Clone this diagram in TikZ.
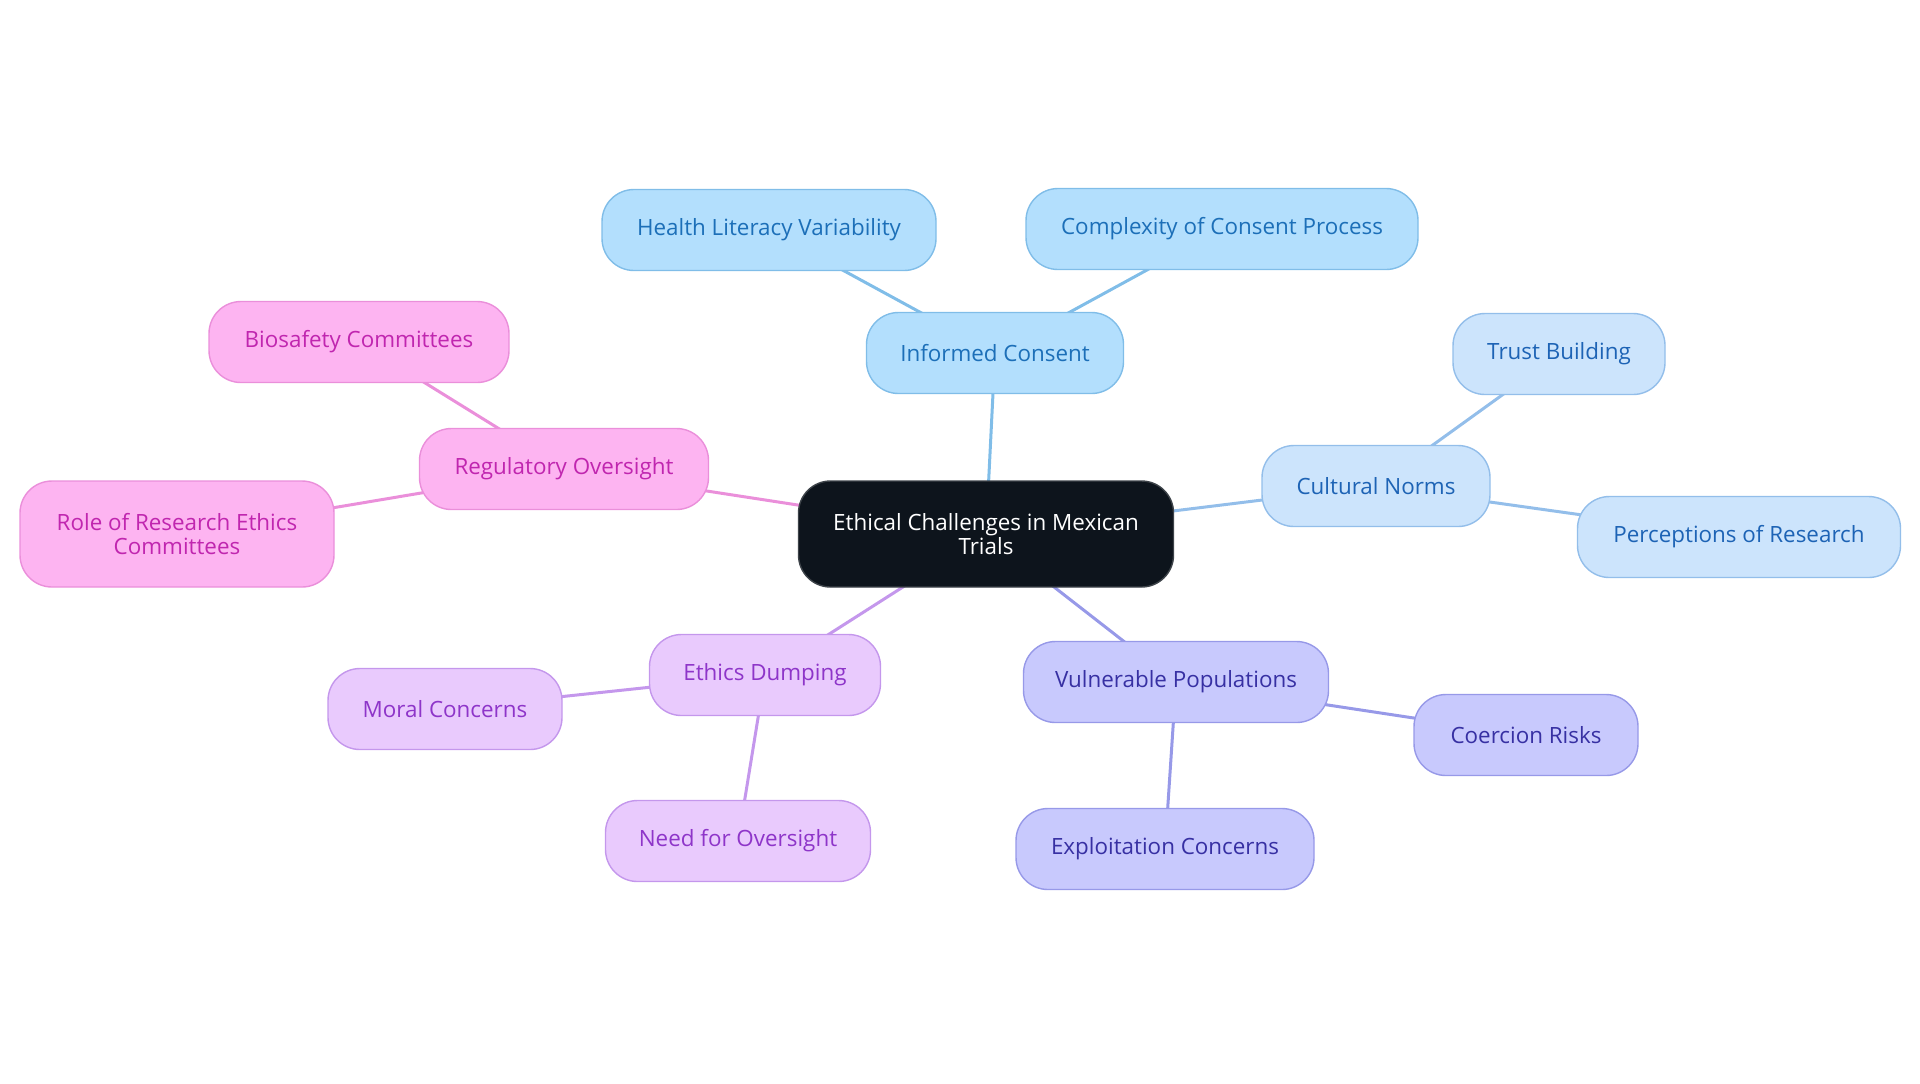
\documentclass[tikz,border=0pt]{standalone}
\usepackage{fontspec}
\setmainfont{Open Sans}
\usetikzlibrary{backgrounds}
\definecolor{icFill}{HTML}{B3DFFD}\definecolor{icLine}{HTML}{80BDE8}\definecolor{icText}{HTML}{1C6FB8}
\definecolor{cnFill}{HTML}{CCE4FC}\definecolor{cnLine}{HTML}{93BEEA}\definecolor{cnText}{HTML}{1D63B5}
\definecolor{vpFill}{HTML}{C8C9FD}\definecolor{vpLine}{HTML}{9799E8}\definecolor{vpText}{HTML}{3730A3}
\definecolor{edFill}{HTML}{E9CAFD}\definecolor{edLine}{HTML}{C497EC}\definecolor{edText}{HTML}{8E35C9}
\definecolor{roFill}{HTML}{FDB4F1}\definecolor{roLine}{HTML}{EA8FDA}\definecolor{roText}{HTML}{C026AF}
\definecolor{ctrFill}{HTML}{0D141C}
\tikzset{
  box/.style={rounded corners=16pt, line width=0.7pt, align=center, font=\fontsize{11.2}{12.2}\selectfont, inner sep=0pt, minimum height=40.5pt},
  icbox/.style={box, fill=icFill, draw=icLine, text=icText},
  cnbox/.style={box, fill=cnFill, draw=cnLine, text=cnText},
  vpbox/.style={box, fill=vpFill, draw=vpLine, text=vpText},
  edbox/.style={box, fill=edFill, draw=edLine, text=edText},
  robox/.style={box, fill=roFill, draw=roLine, text=roText},
  ctrbox/.style={box, fill=ctrFill, draw=ctrFill!80!white, text=white, minimum height=53pt},
  link/.style={line width=1.5pt},
}
\begin{document}
\begin{tikzpicture}[x=0.5pt,y=-0.5pt]
\useasboundingbox (0,0) rectangle (1920,1083);
\node[ctrbox, minimum width=187.5pt] (ctr) at (986,534) {Ethical Challenges in Mexican\\Trials};
\node[icbox, minimum width=128.5pt] (ic) at (995,353) {Informed Consent};
\node[icbox, minimum width=167pt] (hl) at (769,230) {Health Literacy Variability};
\node[icbox, minimum width=196pt] (cc) at (1222,229) {Complexity of Consent Process};
\node[cnbox, minimum width=114pt] (cn) at (1376,486) {Cultural Norms};
\node[cnbox, minimum width=106pt] (tb) at (1559,354) {Trust Building};
\node[cnbox, minimum width=161.5pt] (pr) at (1739,537) {Perceptions of Research};
\node[vpbox, minimum width=152.5pt] (vp) at (1176,682) {Vulnerable Populations};
\node[vpbox, minimum width=112pt] (cr) at (1526,735) {Coercion Risks};
\node[vpbox, minimum width=149pt] (ec) at (1165,849) {Exploitation Concerns};
\node[edbox, minimum width=115.5pt] (ed) at (765,675) {Ethics Dumping};
\node[edbox, minimum width=117pt] (mc) at (445,709) {Moral Concerns};
\node[edbox, minimum width=132.5pt] (no) at (738,841) {Need for Oversight};
\node[robox, minimum width=144.5pt] (ro) at (564,469) {Regulatory Oversight};
\node[robox, minimum width=150pt] (bc) at (359,342) {Biosafety Committees};
\node[robox, minimum width=157pt, minimum height=53pt] (rr) at (177,534) {Role of Research Ethics\\Committees};
\begin{scope}[on background layer]
\draw[link, icLine] (ctr.center) -- (ic.center);
\draw[link, icLine] (ic.center) -- (hl.center);
\draw[link, icLine] (ic.center) -- (cc.center);
\draw[link, cnLine] (ctr.center) -- (cn.center);
\draw[link, cnLine] (cn.center) -- (tb.center);
\draw[link, cnLine] (cn.center) -- (pr.center);
\draw[link, vpLine] (ctr.center) -- (vp.center);
\draw[link, vpLine] (vp.center) -- (cr.center);
\draw[link, vpLine] (vp.center) -- (ec.center);
\draw[link, edLine] (ctr.center) -- (ed.center);
\draw[link, edLine] (ed.center) -- (mc.center);
\draw[link, edLine] (ed.center) -- (no.center);
\draw[link, roLine] (ctr.center) -- (ro.center);
\draw[link, roLine] (ro.center) -- (bc.center);
\draw[link, roLine] (ro.center) -- (rr.center);
\end{scope}
\end{tikzpicture}
\end{document}
